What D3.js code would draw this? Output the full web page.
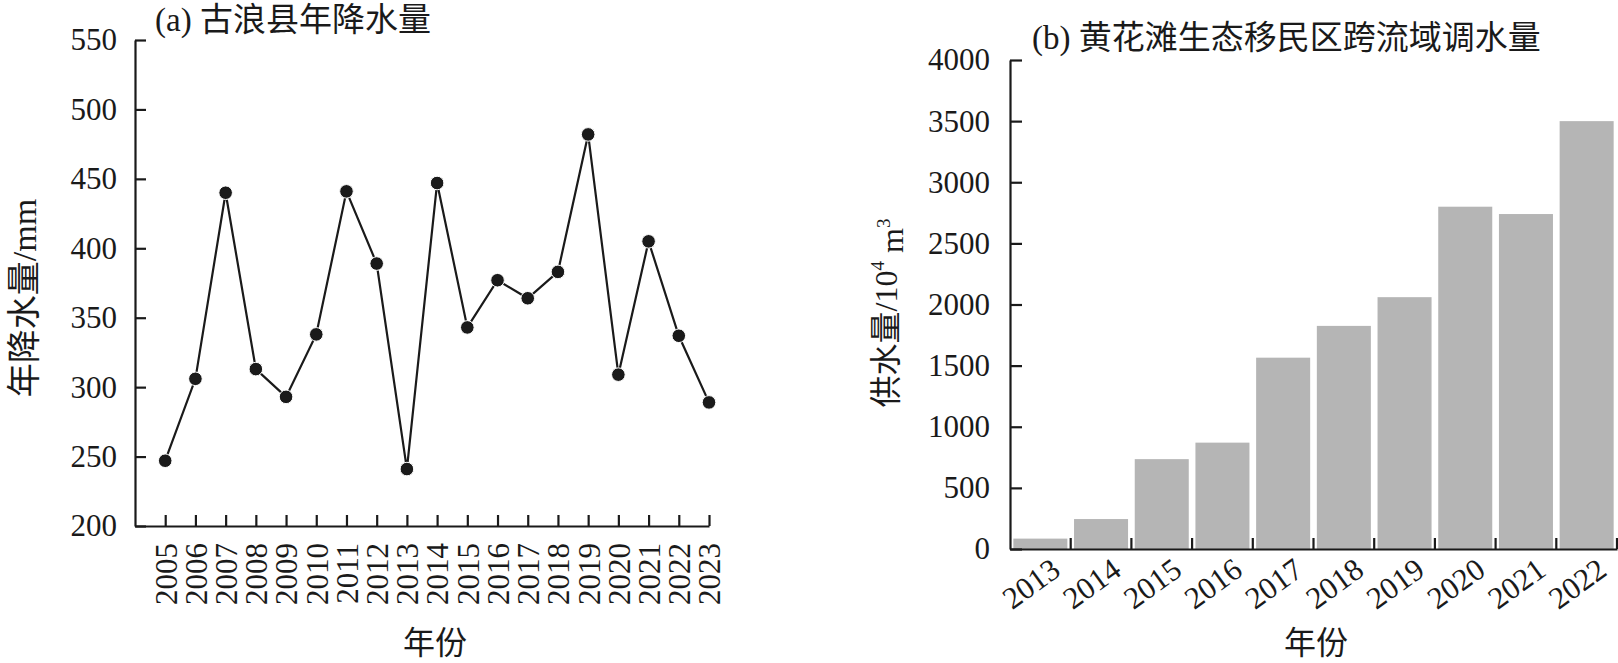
<!DOCTYPE html>
<html><head><meta charset="utf-8">
<script src="https://cdn.jsdelivr.net/npm/d3@7"></script>
<style>
body{margin:0;background:#fff;}
svg text{font-family:"Liberation Serif","Times New Roman",serif;fill:#1a1a1a;}
.axis path,.axis line{stroke:#1a1a1a;stroke-width:2.2;}
</style></head><body>
<svg id="c" width="1618" height="663"></svg>
<script>
// Panel (a): annual precipitation
const yearsA = [2005,2006,2007,2008,2009,2010,2011,2012,2013,2014,2015,2016,2017,2018,2019,2020,2021,2022,2023];
const precip = [247,306,440,313,293,338,441,389,241,447,343,377,364,383,482,309,405,337,289];
const yTicksA = [200,250,300,350,400,450,500,550];
// Panel (b): water transfer
const yearsB = ["2013","2014","2015","2016","2017","2018","2019","2020","2021","2022"];
const supply = [85,245,735,870,1565,1825,2060,2800,2740,3500];
const yTicksB = [0,500,1000,1500,2000,2500,3000,3500,4000];

const svg = d3.select("#c");
const FS = 31;
const FF = '"Liberation Serif","Times New Roman",serif';
const FC = '"Liberation Serif","Times New Roman","Noto Sans CJK SC",serif';

// ---------- Panel (a) ----------
const xA = d3.scaleLinear().domain([2004,2023]).range([135,709]);
const yA = d3.scaleLinear().domain([200,550]).range([526,40]);

const gxA = svg.append("g").attr("class","axis").attr("transform","translate(0,526)")
  .call(d3.axisBottom(xA).tickValues(yearsA).tickFormat(d3.format("d")).tickSizeInner(-11).tickSizeOuter(0));
gxA.selectAll("text").attr("transform","rotate(-90)").attr("x",-17).attr("y",0)
  .attr("dy","0.35em").style("text-anchor","end");

const gyA = svg.append("g").attr("class","axis").attr("transform","translate(135,0)")
  .call(d3.axisLeft(yA).tickValues(yTicksA).tickFormat(d3.format("d")).tickSizeInner(-11).tickSizeOuter(0).tickPadding(18));

const line = d3.line().x((d,i)=>xA(yearsA[i])).y(d=>yA(d));
svg.append("path").datum(precip).attr("d",line).attr("fill","none")
  .attr("stroke","#1a1a1a").attr("stroke-width",2.2);
svg.selectAll("circle.p").data(precip).enter().append("circle").attr("class","p")
  .attr("cx",(d,i)=>xA(yearsA[i])).attr("cy",d=>yA(d)).attr("r",6.8)
  .attr("fill","#1a1a1a").attr("stroke","#fff").attr("stroke-width",1);

svg.append("text").attr("x",155).attr("y",31).style("font-family",FC).style("font-size","33px").text("(a) 古浪县年降水量");
svg.append("text").attr("transform","translate(24,298) rotate(-90)").attr("text-anchor","middle")
  .attr("dominant-baseline","central").style("font-family",FC).style("font-size","34px").text("年降水量/mm");
svg.append("text").attr("x",435).attr("y",643).attr("text-anchor","middle")
  .attr("dominant-baseline","central").style("font-family",FC).style("font-size","32px").text("年份");

// ---------- Panel (b) ----------
const xB = d3.scaleBand().domain(yearsB).range([1010,1617]).paddingInner(0.11).paddingOuter(0.055);
const yB = d3.scaleLinear().domain([0,4000]).range([549,60]);

svg.selectAll("rect.b").data(supply).enter().append("rect").attr("class","b")
  .attr("x",(d,i)=>xB(yearsB[i])).attr("width",xB.bandwidth())
  .attr("y",d=>yB(d)).attr("height",d=>yB(0)-yB(d)).attr("fill","#b5b5b5");

const gxB = svg.append("g").attr("class","axis").attr("transform","translate(0,549)")
  .call(d3.axisBottom(xB).tickSize(0).tickSizeOuter(0).tickPadding(0));
gxB.selectAll("text").attr("transform","translate(9,7) rotate(-36)").attr("y",0).attr("dy","0.71em")
  .style("text-anchor","end");
// boundary ticks between bars
const step = xB.step();
gxB.selectAll("line.bt").data(yearsB).enter().append("line").attr("class","bt")
  .attr("x1",d=>xB(d)+xB.bandwidth()+(step-xB.bandwidth())/2).attr("x2",d=>xB(d)+xB.bandwidth()+(step-xB.bandwidth())/2)
  .attr("y1",0).attr("y2",-11);

const gyB = svg.append("g").attr("class","axis").attr("transform","translate(1010,0)")
  .call(d3.axisLeft(yB).tickValues(yTicksB).tickFormat(d3.format("d")).tickSizeInner(-12).tickSizeOuter(0).tickPadding(20));

svg.selectAll(".axis").attr("font-family",null).attr("font-size",null);
svg.selectAll(".axis text").attr("fill","#1a1a1a").style("font-family",FF).style("font-size",FS+"px");

svg.append("text").attr("x",1032).attr("y",49).style("font-family",FC).style("font-size","33px").text("(b) 黄花滩生态移民区跨流域调水量");
const yt = svg.append("text").attr("transform","translate(886,313) rotate(-90)").attr("text-anchor","middle")
  .attr("dominant-baseline","central").style("font-family",FC).style("font-size","32px");
yt.append("tspan").text("供水量/10");
yt.append("tspan").attr("dy","-0.45em").style("font-size","19px").text("4");
yt.append("tspan").attr("dy","0.45em").text(" m");
yt.append("tspan").attr("dy","-0.45em").style("font-size","19px").text("3");
svg.append("text").attr("x",1316).attr("y",643).attr("text-anchor","middle")
  .attr("dominant-baseline","central").style("font-family",FC).style("font-size","32px").text("年份");
</script></body></html>
